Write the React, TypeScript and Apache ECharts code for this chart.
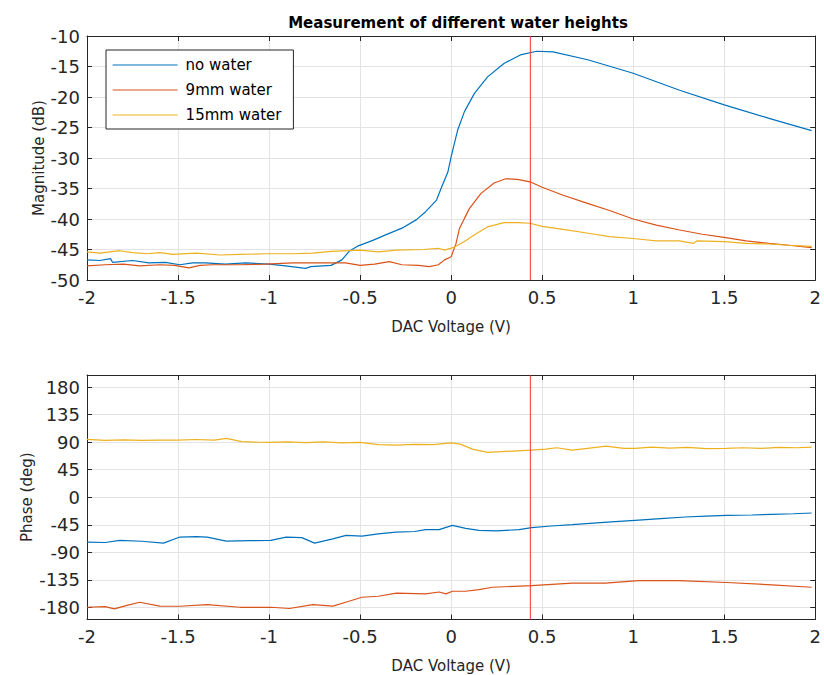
import React, { useEffect, useRef } from "react";
import * as echarts from "echarts";

// ---- data ----
const seriesNames = ["no water", "9mm water", "15mm water"];
const seriesColors = ["#0072BD", "#D95319", "#EDB120"];
const markerVoltage = 0.435;

const voltageMin = -2;
const voltageMax = 2;
const voltageStep = 0.5;
const magMin = -50;
const magMax = -10;
const magStep = 5;
const phaseMin = -200;
const phaseMax = 200;
const phaseTicks = [-180, -135, -90, -45, 0, 45, 90, 135, 180];

const magNoWater: [number, number][] = [
  [-2.0, -46.7], [-1.93, -46.8], [-1.87, -46.5], [-1.86, -47.1], [-1.75, -46.8],
  [-1.66, -47.2], [-1.57, -47.1], [-1.49, -47.5], [-1.42, -47.2], [-1.35, -47.2],
  [-1.24, -47.4], [-1.13, -47.2], [-1.0, -47.4], [-0.91, -47.7], [-0.8, -48.1],
  [-0.77, -47.8], [-0.66, -47.6], [-0.6, -46.7], [-0.56, -45.3], [-0.51, -44.4],
  [-0.43, -43.5], [-0.36, -42.6], [-0.27, -41.5], [-0.19, -40.1], [-0.14, -38.8],
  [-0.08, -36.9], [-0.05, -34.6], [-0.036, -33.6], [-0.018, -32.3], [0.0, -29.8],
  [0.036, -25.4], [0.073, -22.4], [0.128, -19.4], [0.2, -16.7], [0.29, -14.5],
  [0.38, -13.1], [0.47, -12.5], [0.56, -12.6], [0.75, -13.9], [1.0, -16.1],
  [1.255, -18.9], [1.5, -21.3], [1.746, -23.5], [1.98, -25.5],
];

const magWater9: [number, number][] = [
  [-2.0, -47.7], [-1.9, -47.5], [-1.8, -47.4], [-1.71, -47.7], [-1.6, -47.5],
  [-1.52, -47.6], [-1.44, -48.0], [-1.38, -47.6], [-1.31, -47.5], [-1.16, -47.5],
  [-1.02, -47.4], [-0.87, -47.2], [-0.73, -47.2], [-0.58, -47.2], [-0.5, -47.6],
  [-0.42, -47.4], [-0.34, -47.0], [-0.27, -47.5], [-0.18, -47.6], [-0.12, -47.8],
  [-0.07, -47.5], [-0.036, -46.7], [0.0, -46.2], [0.027, -44.0], [0.045, -41.6],
  [0.073, -39.9], [0.1, -38.3], [0.164, -35.8], [0.236, -34.1], [0.3, -33.4],
  [0.364, -33.5], [0.433, -33.9], [0.5, -34.8], [0.615, -36.1], [0.745, -37.4],
  [0.87, -38.6], [1.0, -40.0], [1.127, -41.0], [1.255, -41.8], [1.38, -42.5],
  [1.5, -43.0], [1.62, -43.6], [1.746, -44.0], [1.855, -44.3], [1.98, -44.7],
];

const magWater15: [number, number][] = [
  [-2.0, -45.4], [-1.93, -45.6], [-1.82, -45.2], [-1.75, -45.5], [-1.67, -45.7],
  [-1.6, -45.5], [-1.53, -45.8], [-1.4, -45.6], [-1.27, -45.9], [-1.16, -45.8],
  [-1.02, -45.7], [-0.87, -45.7], [-0.76, -45.6], [-0.66, -45.3], [-0.5, -45.1],
  [-0.4, -45.4], [-0.3, -45.1], [-0.15, -45.0], [-0.07, -44.8], [-0.036, -45.1],
  [0.018, -44.6], [0.073, -43.7], [0.128, -42.6], [0.2, -41.3], [0.29, -40.6],
  [0.364, -40.6], [0.433, -40.7], [0.5, -41.2], [0.615, -41.7], [0.745, -42.3],
  [0.87, -42.9], [1.0, -43.2], [1.127, -43.6], [1.255, -43.6], [1.33, -44.0],
  [1.35, -43.6], [1.5, -43.7], [1.62, -44.0], [1.746, -44.1], [1.855, -44.3],
  [1.98, -44.5],
];

const phaseNoWater: [number, number][] = [
  [-2.0, -73.4], [-1.9, -74], [-1.82, -70.6], [-1.7, -72], [-1.58, -75],
  [-1.49, -65.1], [-1.4, -64.5], [-1.34, -65.1], [-1.235, -71.7], [-1.1, -71],
  [-0.99, -70.6], [-0.906, -65.1], [-0.82, -66], [-0.75, -75], [-0.65, -68],
  [-0.577, -62.4], [-0.49, -63.5], [-0.4, -60], [-0.303, -56.9], [-0.2, -56],
  [-0.14, -53], [-0.066, -53], [0.007, -46], [0.08, -51], [0.153, -54.2],
  [0.25, -55], [0.373, -53], [0.442, -49.8], [0.55, -47], [0.665, -44.8],
  [0.8, -42], [0.9, -40], [1.01, -37.8], [1.15, -35], [1.285, -32.3],
  [1.4, -31], [1.514, -29.6], [1.65, -29], [1.76, -28], [1.88, -27], [1.98, -25.8],
];

const phaseWater9: [number, number][] = [
  [-2.0, -180], [-1.9, -179], [-1.85, -182.6], [-1.78, -177], [-1.71, -171.8],
  [-1.6, -178], [-1.49, -178.3], [-1.34, -175.7], [-1.16, -180], [-0.99, -180],
  [-0.888, -182], [-0.76, -175.7], [-0.65, -178], [-0.57, -171], [-0.49, -163.6],
  [-0.4, -162], [-0.3, -157], [-0.14, -158], [-0.066, -155], [-0.029, -158],
  [0.007, -153.8], [0.08, -153.8], [0.153, -151], [0.226, -147.2], [0.442, -144.5],
  [0.665, -140.6], [0.847, -140.6], [1.03, -136.3], [1.25, -136.3], [1.514, -139.5],
  [1.76, -143.3], [1.98, -147.2],
];

const phaseWater15: [number, number][] = [
  [-2.0, 94.7], [-1.9, 93], [-1.8, 94], [-1.7, 93], [-1.6, 93.5],
  [-1.5, 93.5], [-1.4, 94.5], [-1.3, 93.5], [-1.235, 96.3], [-1.15, 91],
  [-1.05, 90], [-1.0, 89.7], [-0.9, 90.5], [-0.8, 89.5], [-0.7, 90.5],
  [-0.6, 89], [-0.5, 89.7], [-0.4, 86], [-0.3, 85.3], [-0.2, 86.5],
  [-0.1, 86], [0.0, 89], [0.05, 87], [0.117, 78.7], [0.2, 73.5],
  [0.3, 75], [0.44, 77], [0.52, 78.7], [0.58, 81], [0.665, 77],
  [0.75, 80], [0.85, 83.5], [0.95, 80], [1.01, 80], [1.1, 82],
  [1.2, 80.5], [1.3, 81.5], [1.4, 79.5], [1.51, 80], [1.6, 81],
  [1.7, 80], [1.8, 81.5], [1.9, 81], [1.98, 82],
];

const titleText = "Measurement of different water heights";
const xName = "DAC Voltage (V)";
const magName = "Magnitude (dB)";
const phaseName = "Phase (deg)";

// ---- styling ----
const FONT = "DejaVu Sans";
const AX = "#262626";
const GRIDC = "#e3e3e3";
const MARKER_COLOR = "#ff3030";

function baseX(gridIndex: number, top: boolean) {
  return {
    type: "value",
    gridIndex,
    position: top ? "top" : "bottom",
    min: voltageMin,
    max: voltageMax,
    interval: voltageStep,
    name: top ? "" : xName,
    nameLocation: "middle",
    nameGap: 39,
    nameMoveOverlap: false,
    nameTextStyle: { color: AX, fontSize: 15, fontFamily: FONT },
    axisLine: { show: true, onZero: false, lineStyle: { color: AX, width: 1 } },
    axisTick: { show: true, inside: true, length: 5, lineStyle: { color: AX } },
    axisLabel: {
      show: !top,
      color: AX,
      fontSize: 18,
      fontFamily: FONT,
      margin: 8,
    },
    splitLine: { show: !top, lineStyle: { color: GRIDC, width: 1 } },
  };
}

function magY(right: boolean) {
  return {
    type: "value",
    gridIndex: 0,
    position: right ? "right" : "left",
    min: magMin,
    max: magMax,
    interval: magStep,
    name: right ? "" : magName,
    nameLocation: "middle",
    nameRotate: 90,
    nameGap: 41,
    nameMoveOverlap: false,
    nameTextStyle: { color: AX, fontSize: 15, fontFamily: FONT },
    axisLine: { show: true, onZero: false, lineStyle: { color: AX, width: 1 } },
    axisTick: { show: true, inside: true, length: 5, lineStyle: { color: AX } },
    axisLabel: {
      show: !right,
      color: AX,
      fontSize: 18,
      fontFamily: FONT,
      margin: 7,
    },
    splitLine: { show: !right, lineStyle: { color: GRIDC, width: 1 } },
  };
}

function phaseY(right: boolean) {
  return {
    type: "value",
    gridIndex: 1,
    position: right ? "right" : "left",
    min: phaseMin,
    max: phaseMax,
    name: right ? "" : phaseName,
    nameLocation: "middle",
    nameRotate: 90,
    nameGap: 53,
    nameMoveOverlap: false,
    nameTextStyle: { color: AX, fontSize: 15, fontFamily: FONT },
    axisLine: { show: true, onZero: false, lineStyle: { color: AX, width: 1 } },
    axisTick: {
      show: true,
      inside: true,
      length: 5,
      customValues: phaseTicks,
      lineStyle: { color: AX },
    },
    axisLabel: {
      show: !right,
      customValues: phaseTicks,
      color: AX,
      fontSize: 18,
      fontFamily: FONT,
      margin: 7,
    },
    splitLine: { show: !right, lineStyle: { color: GRIDC, width: 1 } },
  };
}

function lineSeries(idx: number, data: [number, number][], axisIdx: number) {
  return {
    type: "line",
    name: seriesNames[idx],
    xAxisIndex: axisIdx,
    yAxisIndex: axisIdx,
    data,
    symbol: "none",
    showSymbol: false,
    smooth: false,
    color: seriesColors[idx],
    lineStyle: { color: seriesColors[idx], width: 1.2 },
    z: 3,
  };
}

function markerSeries(axisIdx: number, lo: number, hi: number) {
  return {
    type: "line",
    name: "marker",
    xAxisIndex: axisIdx,
    yAxisIndex: axisIdx,
    data: [
      [markerVoltage, lo],
      [markerVoltage, hi],
    ],
    symbol: "none",
    showSymbol: false,
    silent: true,
    color: MARKER_COLOR,
    lineStyle: { color: MARKER_COLOR, width: 1 },
    z: 4,
  };
}

export default function App() {
  const ref = useRef<HTMLDivElement>(null);
  useEffect(() => {
    document.body.style.margin = "0";
    if (!ref.current) return;
    const chart = echarts.init(ref.current, null, { renderer: "svg" });
    const xAxes: any[] = [baseX(0, false), baseX(1, false), baseX(0, true), baseX(1, true)];
    const yAxes: any[] = [magY(false), phaseY(false), magY(true), phaseY(true)];
    const option: any = {
      animation: false,
      backgroundColor: "#ffffff",
      textStyle: { fontFamily: FONT },
      title: {
        text: titleText,
        left: 453,
        top: 10,
        textAlign: "center",
        textStyle: {
          fontFamily: FONT,
          fontWeight: "bold",
          fontSize: 15,
          color: "#000000",
        },
      },
      legend: {
        orient: "vertical",
        left: 106,
        top: 50,
        data: seriesNames,
        backgroundColor: "#ffffff",
        borderColor: AX,
        borderWidth: 1,
        borderRadius: 0,
        padding: [7, 12, 6, 6],
        itemWidth: 65,
        itemHeight: 16,
        itemGap: 9,
        itemStyle: { opacity: 0 },
        lineStyle: { width: 1.2 },
        textStyle: {
          color: "#000000",
          fontSize: 15,
          fontFamily: FONT,
          lineHeight: 16,
          padding: [0, 0, 0, 3],
        },
        z: 10,
      },
      grid: [
        { left: 87, right: 4, top: 36, height: 244, show: false },
        { left: 87, right: 4, top: 375, height: 244.5, show: false },
      ],
      xAxis: xAxes,
      yAxis: yAxes,
      series: [
        lineSeries(0, magNoWater, 0),
        lineSeries(1, magWater9, 0),
        lineSeries(2, magWater15, 0),
        markerSeries(0, magMin, magMax),
        lineSeries(0, phaseNoWater, 1),
        lineSeries(1, phaseWater9, 1),
        lineSeries(2, phaseWater15, 1),
        markerSeries(1, phaseMin, phaseMax),
      ],
    };
    option.xAxis[2].gridIndex = 0;
    option.xAxis[3].gridIndex = 1;
    option.yAxis[2].gridIndex = 0;
    option.yAxis[3].gridIndex = 1;
    chart.setOption(option);
    return () => chart.dispose();
  }, []);
  return <div ref={ref} style={{ width: 824, height: 675 }} />;
}
